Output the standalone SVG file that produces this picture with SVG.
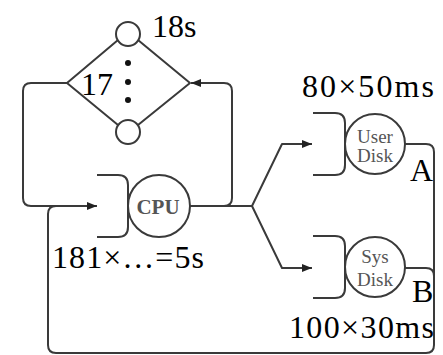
<svg xmlns="http://www.w3.org/2000/svg" width="443" height="355" viewBox="0 0 443 355">
<defs>
<style>
.ln{fill:none;stroke:#3a3a3a;stroke-width:2;stroke-linejoin:round}
.nd{fill:#fff;stroke:#3a3a3a;stroke-width:2}
.lbl{font-family:"Liberation Serif","Times New Roman",serif;font-size:32px;fill:#000}
.in{font-family:"Liberation Serif","Times New Roman",serif;fill:#555;text-anchor:middle}
</style>
<marker id="ah" viewBox="0 0 10 8" refX="10" refY="4" markerWidth="10" markerHeight="8" markerUnits="userSpaceOnUse" orient="auto">
<path d="M0,0 L10,4 L0,8 z" fill="#222"/>
</marker>
</defs>
<rect width="443" height="355" fill="#fff"/>
<g id="connectors">
<path class="ln" d="M118,40 L67,83 L118,125"/>
<path class="ln" d="M138,40 L190,83 L138,125"/>
<path class="ln" d="M67,83 L31,83 Q23,83 23,91 L23,198 Q23,206 31,206 L97,206" marker-end="url(#ah)"/>
<path class="ln" d="M190,206 L224,206 Q232,206 232,198 L232,91 Q232,83 224,83 L191,83" marker-end="url(#ah)"/>
<path class="ln" d="M190,206 L252,206 L282,144 L312,144" marker-end="url(#ah)"/>
<path class="ln" d="M252,206 L282,268 L312,268" marker-end="url(#ah)"/>
<path class="ln" d="M405,144 L426,144 Q434,144 434,152 L434,345 Q434,353 426,353 L56,353 Q48,353 48,345 L48,214 Q48,206 56,206"/>
<path class="ln" d="M405,268 L426,268 Q434,268 434,276 L434,300"/>
</g>
<g id="terminal-top"><circle class="nd" cx="128" cy="34" r="12"/></g>
<g id="terminal-bottom"><circle class="nd" cx="128" cy="132" r="12"/></g>
<g id="dots" fill="#111">
<circle cx="128" cy="63" r="3"/><circle cx="128" cy="82" r="3"/><circle cx="128" cy="100" r="3"/>
</g>
<g id="cpu">
<path class="ln" d="M97,175 L118,175 Q128,175 128,185 L128,227 Q128,237 118,237 L97,237"/>
<circle class="nd" cx="159" cy="206" r="31"/>
<text class="in" x="158" y="214" font-size="21" font-weight="bold" fill="#666">CPU</text>
</g>
<g id="user-disk">
<path class="ln" d="M313,113 L335,113 Q345,113 345,123 L345,165 Q345,175 335,175 L313,175"/>
<circle class="nd" cx="375" cy="144" r="30"/>
<text class="in" x="375" y="143" font-size="19">User</text>
<text class="in" x="375" y="162" font-size="19">Disk</text>
</g>
<g id="sys-disk">
<path class="ln" d="M313,236 L335,236 Q345,236 345,246 L345,288 Q345,298 335,298 L313,298"/>
<circle class="nd" cx="375" cy="267" r="30"/>
<text class="in" x="375" y="263" font-size="19">Sys</text>
<text class="in" x="375" y="286" font-size="19">Disk</text>
</g>
<g id="labels">
<text class="lbl" x="152" y="37">18s</text>
<text class="lbl" x="81" y="95">17</text>
<text class="lbl" x="302" y="97" textLength="132" lengthAdjust="spacing">80×50ms</text>
<text class="lbl" x="52" y="268" textLength="152" lengthAdjust="spacing">181×…=5s</text>
<text class="lbl" x="410" y="181">A</text>
<text class="lbl" x="412" y="302">B</text>
<text class="lbl" x="289" y="338" textLength="145" lengthAdjust="spacing">100×30ms</text>
</g>
</svg>
